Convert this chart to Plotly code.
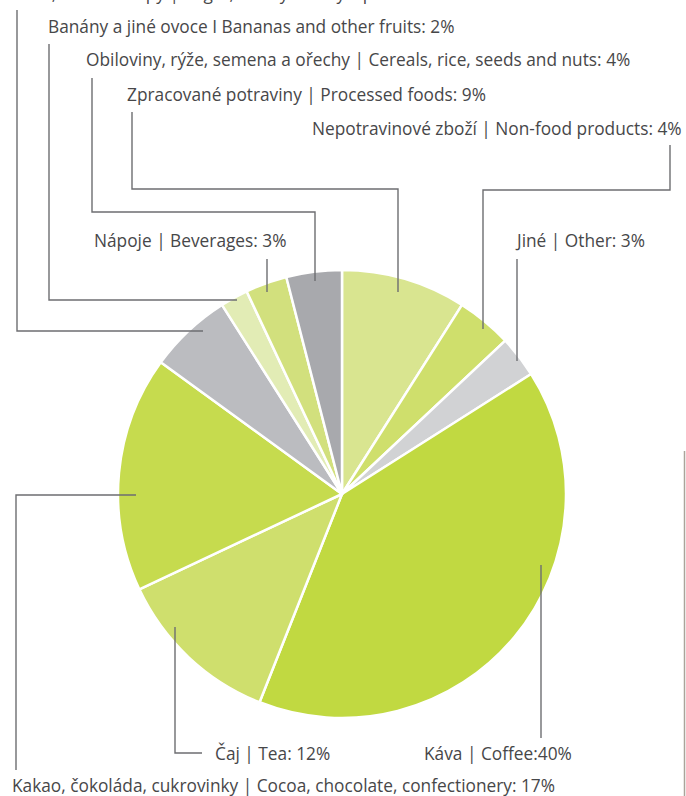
import plotly.graph_objects as go

W, H = 686, 796

# ---- data ----
categories = [
    "Zpracované potraviny | Processed foods",
    "Nepotravinové zboží | Non-food products",
    "Jiné | Other",
    "Káva | Coffee",
    "Čaj | Tea",
    "Kakao, čokoláda, cukrovinky | Cocoa, chocolate, confectionery",
    "Cukr, med a sirupy | Sugar, honey and syrups",
    "Banány a jiné ovoce I Bananas and other fruits",
    "Nápoje | Beverages",
    "Obiloviny, rýže, semena a ořechy | Cereals, rice, seeds and nuts",
]
values = [9, 4, 3, 40, 12, 17, 6, 2, 3, 4]
label_texts = [
    "Zpracované potraviny | Processed foods: 9%",
    "Nepotravinové zboží | Non-food products: 4%",
    "Jiné | Other: 3%",
    "Káva | Coffee:40%",
    "Čaj | Tea: 12%",
    "Kakao, čokoláda, cukrovinky | Cocoa, chocolate, confectionery: 17%",
    "Cukr, med a sirupy | Sugar, honey and syrups: 6%",
    "Banány a jiné ovoce I Bananas and other fruits: 2%",
    "Nápoje | Beverages: 3%",
    "Obiloviny, rýže, semena a ořechy | Cereals, rice, seeds and nuts: 4%",
]
colors = ["#d9e590", "#cfdf6c", "#d1d2d4", "#c1d941", "#cfdf6d",
          "#c6db4e", "#bbbcc0", "#e2ecb5", "#d2e07d", "#a8a9ad"]

# ---- layout helpers (pixel -> paper) ----
def px(x):
    return x / W

def py(y):
    return 1 - y / H

CX, CY, R = 342, 494, 224

fig = go.Figure()
fig.add_trace(go.Pie(
    labels=categories, values=values, sort=False, direction="clockwise",
    rotation=0, textinfo="none", hoverinfo="label+percent",
    marker=dict(colors=colors, line=dict(color="white", width=2.5)),
    domain=dict(x=[px(CX - R), px(CX + R)], y=[py(CY + R), py(CY - R)]),
    showlegend=False,
))

# label placement: (x, y, anchor)
label_pos = [
    (125, 95, "left"),
    (684, 128, "right"),
    (513, 241, "left"),
    (574, 753, "right"),
    (213, 753, "left"),
    (10, 785, "left"),
    (12, -6, "left"),
    (46, 27, "left"),
    (92, 241, "left"),
    (84, 60, "left"),
]
# leader routes in pixels
leaders = [
    [(132, 112), (132, 189), (398, 189), (398, 292)],
    [(670, 145), (670, 190), (483, 190), (483, 329)],
    [(517, 259), (517, 361)],
    [(541, 738), (541, 565)],
    [(202, 753), (175, 753), (175, 627)],
    [(16, 770), (16, 495), (136, 495)],
    [(17, 10), (17, 331), (203, 331)],
    [(49, 44), (49, 300), (237, 300)],
    [(267, 259), (267, 292)],
    [(92, 78), (92, 212), (315, 212), (315, 281)],
]

shapes = []
for route in leaders:
    path = "M " + " L ".join(f"{px(x)},{py(y)}" for x, y in route)
    shapes.append(dict(type="path", xref="paper", yref="paper", path=path,
                       line=dict(color="#6d6e71", width=1.4)))
# page-edge strip at right
shapes.append(dict(type="line", xref="paper", yref="paper",
                   x0=px(684.5), x1=px(684.5), y0=py(451), y1=py(796),
                   line=dict(color="#aaa49a", width=1.5)))

annotations = []
for txt, (x, y, anc) in zip(label_texts, label_pos):
    annotations.append(dict(
        text=txt, x=px(x), y=py(y), xref="paper", yref="paper",
        xanchor=anc, yanchor="middle", showarrow=False,
        font=dict(family="Open Sans", size=17.3, color="#474749"),
    ))

fig.update_layout(
    width=W, height=H, margin=dict(l=0, r=0, t=0, b=0),
    paper_bgcolor="white", plot_bgcolor="white",
    shapes=shapes, annotations=annotations,
)

fig.write_html("out.html", config={"displayModeBar": False},
               post_script="document.body.style.margin='0';")
